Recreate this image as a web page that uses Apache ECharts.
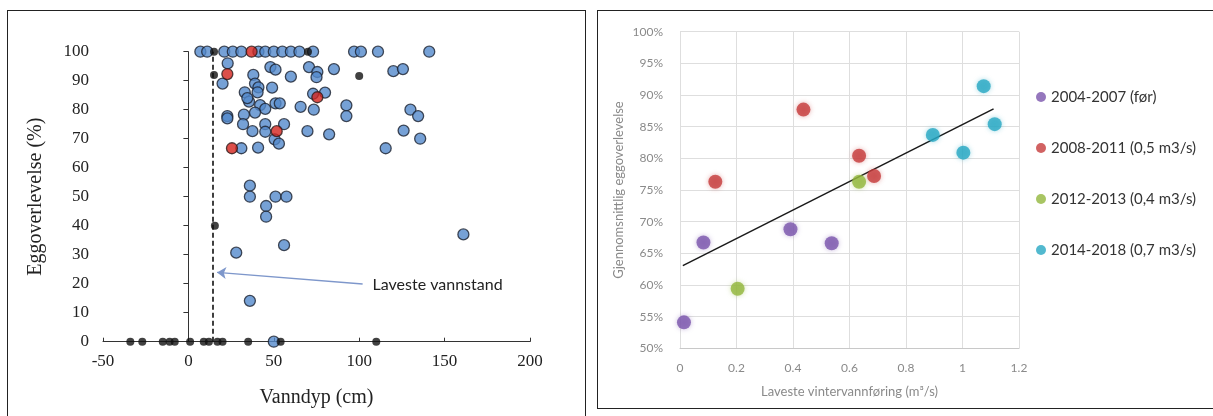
<!DOCTYPE html>
<html>
<head>
<meta charset="utf-8">
<script src="https://cdn.jsdelivr.net/npm/echarts@6/dist/echarts.min.js"></script>
<style>
  html, body { margin: 0; padding: 0; background: #fff; }
  #wrap { position: relative; width: 1213px; height: 416px; overflow: hidden; }
  .frame { position: absolute; border: 1.5px solid #222; box-sizing: border-box; }
  #chart { position: absolute; left: 0; top: 0; width: 1213px; height: 416px; }
</style>
</head>
<body>
<div id="wrap">
  <div class="frame" style="left:7px; top:10px; width:579px; height:408px;"></div>
  <div class="frame" style="left:597px; top:10px; width:620px; height:399px;"></div>
  <div id="chart"></div>
</div>
<script>
// venstre figur: vanndyp (cm) mot eggoverlevelse (%)
var blueTopX = [7, 11, 21, 26, 31, 41, 45, 50, 55, 60, 65, 73, 97, 101, 111, 141];
var bluePoints = [
  [23, 96], [20, 89], [38, 92], [39, 89], [41, 87.7], [40.5, 86], [33, 86], [35.5, 82.8],
  [34.5, 84], [42, 81.6], [45, 80.3], [51, 82.2], [53.5, 82.2], [39, 79], [32.5, 78.3],
  [32, 75], [37.5, 72.6], [45, 75], [45, 72.4], [50.5, 69.8], [53, 68.3], [56, 75],
  [49, 87.6], [48, 94.7], [51, 93.8], [60, 91.4], [65.7, 81], [70.6, 94.7], [75.5, 93],
  [75, 91.2], [73, 85.5], [80, 85.9], [73.4, 80], [69.7, 72.6], [82.4, 71.5], [85.2, 94],
  [92.5, 81.5], [92.5, 77.8], [120, 93.3], [125.6, 94], [130, 80], [134.5, 77.8],
  [126, 72.8], [135.7, 70], [115.5, 66.7], [22.8, 77.8], [22.8, 77], [31, 66.7],
  [40.8, 66.9], [36, 53.8], [36, 50], [51, 50], [57.4, 50], [45.5, 46.8], [45.5, 43.1],
  [56, 33.3], [28, 30.7], [161, 37], [36, 14.1], [50, 0]
];
var redPoints = [[37, 100], [22.8, 92.3], [75.5, 84.3], [51.7, 72.6], [25.5, 66.7]];
var blackPoints = [[15, 100], [70, 100], [15, 92], [100, 91.6], [15.5, 40]];
var blackZeroX = [-34, -27, -15, -11, -8, 1, 9, 12, 17, 20, 35, 54, 110];
var lowestLevel = 14;

// høyre figur: laveste vintervannføring mot gjennomsnittlig eggoverlevelse
var periods = ['2004-2007 (før)', '2008-2011 (0,5 m3/s)', '2012-2013 (0,4 m3/s)', '2014-2018 (0,7 m3/s)'];
var periodColors = ['#7b55ad', '#c63b3b', '#92b63c', '#27a7c3'];
var flowPurple = [[0.014, 54.1], [0.083, 66.7], [0.391, 68.8], [0.537, 66.6]];
var flowRed = [[0.125, 76.3], [0.437, 87.7], [0.634, 80.4], [0.687, 77.2]];
var flowGreen = [[0.204, 59.4], [0.634, 76.3]];
var flowTeal = [[0.895, 83.7], [1.003, 80.9], [1.075, 91.4], [1.114, 85.4]];
var trend = [[0.01, 63.05], [1.11, 87.8]];

var topRow = blueTopX.map(function (x) { return [x, 100]; });
var zeroRow = blackZeroX.map(function (x) { return [x, 0]; });

var serif = 'Liberation Serif';
var sans = 'Lato';

var myChart = echarts.init(document.getElementById('chart'));
myChart.setOption({
  animation: false,
  grid: [
    { left: 103, top: 51.7, width: 427, height: 290 },
    { left: 680, top: 31.7, width: 339, height: 316.6 }
  ],
  legend: {
    orient: 'vertical',
    left: 1031,
    top: 84,
    itemGap: 35,
    itemWidth: 10,
    itemHeight: 10,
    icon: 'circle',
    textStyle: { fontFamily: sans, fontSize: 15, color: '#333', lineHeight: 16 },
    data: periods
  },
  xAxis: [{
    gridIndex: 0,
    type: 'value',
    min: -50, max: 200, interval: 50,
    name: 'Vanndyp (cm)',
    nameLocation: 'middle',
    nameGap: 46,
    nameTextStyle: { fontFamily: serif, fontSize: 20, color: '#222' },
    axisLine: { lineStyle: { color: '#333', width: 1 } },
    axisTick: { inside: true, length: 4, lineStyle: { color: '#333' } },
    axisLabel: { fontFamily: serif, fontSize: 17, color: '#222', margin: 11 },
    splitLine: { show: false }
  }, {
    gridIndex: 1,
    type: 'value',
    min: 0, max: 1.2, interval: 0.2,
    name: 'Laveste vintervannføring (m³/s)',
    nameLocation: 'middle',
    nameGap: 37,
    nameTextStyle: { fontFamily: sans, fontSize: 13, color: '#8a8a8a' },
    axisLine: { lineStyle: { color: '#c8c8c8' } },
    axisTick: { show: false },
    axisLabel: { fontFamily: sans, fontSize: 12, color: '#8a8a8a', margin: 14 },
    splitLine: { show: true, lineStyle: { color: '#dedede' } }
  }],
  yAxis: [{
    gridIndex: 0,
    type: 'value',
    min: 0, max: 100, interval: 10,
    name: 'Eggoverlevelse (%)',
    nameLocation: 'middle',
    nameGap: 57,
    nameTextStyle: { fontFamily: serif, fontSize: 20, color: '#222' },
    axisLine: { show: true, lineStyle: { color: '#333', width: 1 } },
    axisTick: { show: true, length: 5, lineStyle: { color: '#333' } },
    axisLabel: { fontFamily: serif, fontSize: 17, color: '#222', margin: 14 },
    splitLine: { show: false }
  }, {
    gridIndex: 1,
    type: 'value',
    min: 50, max: 100, interval: 5,
    name: 'Gjennomsnittlig eggoverlevelse',
    nameLocation: 'middle',
    nameGap: 55,
    nameTextStyle: { fontFamily: sans, fontSize: 13, color: '#8a8a8a' },
    axisLine: { show: false },
    axisTick: { show: false },
    axisLabel: { fontFamily: sans, fontSize: 12, color: '#8a8a8a', margin: 17, formatter: '{value}%' },
    splitLine: { show: true, lineStyle: { color: '#dedede' } }
  }],
  series: [
    {
      type: 'scatter', xAxisIndex: 0, yAxisIndex: 0,
      symbolSize: 11,
      itemStyle: { color: '#5489cc', borderColor: '#1b2230', borderWidth: 1.3 },
      data: topRow.concat(bluePoints)
    },
    {
      type: 'scatter', xAxisIndex: 0, yAxisIndex: 0,
      symbolSize: 11,
      itemStyle: { color: '#d3231d', borderColor: '#2a1a1a', borderWidth: 1.3 },
      data: redPoints
    },
    {
      type: 'scatter', xAxisIndex: 0, yAxisIndex: 0,
      symbolSize: 8,
      itemStyle: { color: '#111' },
      data: blackPoints.concat(zeroRow),
      markLine: {
        silent: true,
        animation: false,
        symbol: ['none', 'none'],
        data: [
          { xAxis: lowestLevel, lineStyle: { type: [5, 3], color: '#111', width: 1.6 }, label: { show: false } },
          [{ coord: [102, 19.9], symbol: 'none',
             lineStyle: { type: 'solid', color: '#7e97cb', width: 1.3 },
             label: { show: true, position: 'start', distance: 10, formatter: 'Laveste vannstand',
                      fontFamily: sans, fontSize: 16, color: '#222' } },
           { coord: [16.8, 23.9], symbol: 'arrow', symbolSize: 9 }]
        ]
      }
    },
    {
      name: periods[0], type: 'scatter', xAxisIndex: 1, yAxisIndex: 1, symbolSize: 14,
      itemStyle: { color: periodColors[0], shadowBlur: 5, shadowColor: 'rgba(123,85,173,0.5)' },
      data: flowPurple
    },
    {
      name: periods[1], type: 'scatter', xAxisIndex: 1, yAxisIndex: 1, symbolSize: 14,
      itemStyle: { color: periodColors[1], shadowBlur: 5, shadowColor: 'rgba(198,59,59,0.5)' },
      data: flowRed
    },
    {
      name: periods[2], type: 'scatter', xAxisIndex: 1, yAxisIndex: 1, symbolSize: 14,
      itemStyle: { color: periodColors[2], shadowBlur: 5, shadowColor: 'rgba(146,182,60,0.5)' },
      data: flowGreen
    },
    {
      name: periods[3], type: 'scatter', xAxisIndex: 1, yAxisIndex: 1, symbolSize: 14,
      itemStyle: { color: periodColors[3], shadowBlur: 5, shadowColor: 'rgba(39,167,195,0.5)' },
      data: flowTeal
    },
    {
      type: 'line', xAxisIndex: 1, yAxisIndex: 1,
      symbol: 'none', z: 1,
      lineStyle: { color: '#1a1a1a', width: 1.5 },
      data: trend
    }
  ]
});
</script>
</body>
</html>
